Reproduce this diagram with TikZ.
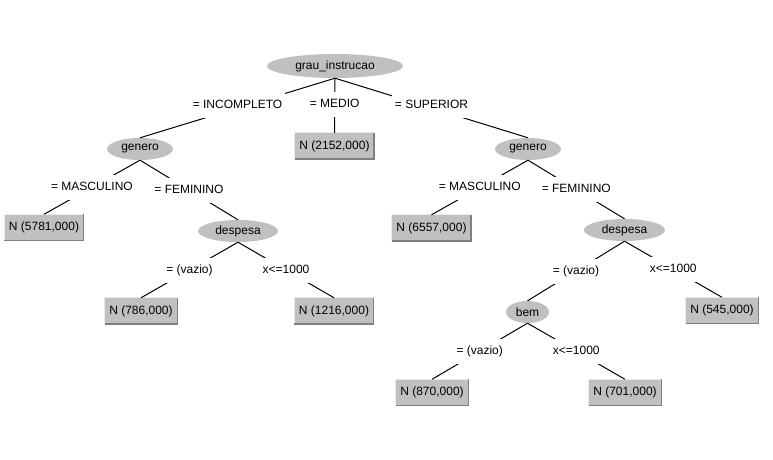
\documentclass[tikz,border=0pt]{standalone}
\usepackage{fontspec}
\setmainfont{Liberation Sans}
\usetikzlibrary{shapes.geometric}
\definecolor{nodegray}{RGB}{192,192,192}
\definecolor{shadegray}{RGB}{128,128,128}
\definecolor{litegray}{RGB}{235,235,235}
\begin{document}
\begin{tikzpicture}[x=1pt,y=-1pt,
  every node/.style={font=\fontsize{12}{14}\selectfont},
  attr/.style={ellipse,fill=nodegray,inner sep=0pt,minimum height=22pt},
  leaf/.style={rectangle,fill=nodegray,inner xsep=4.5pt,inner ysep=0pt,minimum height=26pt},
  lbl/.style={fill=white,inner xsep=3pt,inner ysep=0pt,minimum height=25pt,text height=9pt,text depth=3pt},
  link/.style={line width=1pt}]
  \useasboundingbox (0,0) rectangle (773,460);

  % attribute nodes
  \node[attr,minimum width=136pt,minimum height=24pt] (root) at (335,66) {grau\_instrucao};
  \node[attr,minimum width=66pt] (genL) at (140,149) {genero};
  \node[attr,minimum width=66pt] (genR) at (528,149) {genero};
  \node[attr,minimum width=80pt] (despL) at (238,231) {despesa};
  \node[attr,minimum width=81pt] (despR) at (624.5,230) {despesa};
  \node[attr,minimum width=43pt] (bem) at (527.5,312) {bem};

  % leaves
  \node[leaf] (medio) at (334.5,146) {N (2152,000)};
  \node[leaf] (mascL) at (44,227.5) {N (5781,000)};
  \node[leaf] (vazL) at (141,311) {N (786,000)};
  \node[leaf] (milL) at (334,311) {N (1216,000)};
  \node[leaf] (mascR) at (431.5,228) {N (6557,000)};
  \node[leaf] (milR) at (722,310.5) {N (545,000)};
  \node[leaf] (vazB) at (432,392.5) {N (870,000)};
  \node[leaf] (milB) at (625,392.5) {N (701,000)};

  \foreach \n in {medio,mascL,vazL,milL,mascR,milR,vazB,milB} {
    \draw[litegray,line width=1pt] (\n.south west) -- (\n.north west) -- (\n.north east);
    \draw[shadegray,line width=1.5pt] (\n.north east) -- (\n.south east) -- (\n.south west);
  }

  % branches
  \draw[link] (root.south) -- node[lbl,yshift=3pt] {= INCOMPLETO} (genL.north);
  \draw[link] (root.south) -- node[lbl,yshift=1pt] {= MEDIO} (medio.north);
  \draw[link] (root.south) -- node[lbl,yshift=3pt] {= SUPERIOR} (genR.north);
  \draw[link] (genL.south) -- node[lbl] {= MASCULINO} (mascL.north);
  \draw[link] (genL.south) -- node[lbl] {= FEMININO} (despL.north);
  \draw[link] (despL.south) -- node[lbl] {= (vazio)} (vazL.north);
  \draw[link] (despL.south) -- node[lbl] {x<=1000} (milL.north);
  \draw[link] (genR.south) -- node[lbl] {= MASCULINO} (mascR.north);
  \draw[link] (genR.south) -- node[lbl] {= FEMININO} (despR.north);
  \draw[link] (despR.south) -- node[lbl] {= (vazio)} (bem.north);
  \draw[link] (despR.south) -- node[lbl] {x<=1000} (milR.north);
  \draw[link] (bem.south) -- node[lbl] {= (vazio)} (vazB.north);
  \draw[link] (bem.south) -- node[lbl] {x<=1000} (milB.north);
\end{tikzpicture}
\end{document}
